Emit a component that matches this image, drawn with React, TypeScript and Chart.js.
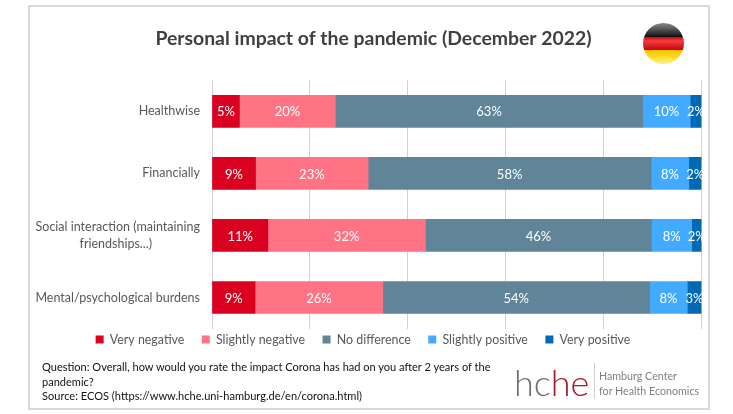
import React, { useEffect, useRef } from "react";
import { Chart, registerables } from "chart.js";

Chart.register(...registerables);

const categories: (string | string[])[] = [
  "Healthwise",
  "Financially",
  ["Social interaction (maintaining", "friendships...)"],
  "Mental/psychological burdens",
];
const veryNegative = [5.6, 8.9, 11.4, 8.8];
const slightlyNegative = [19.6, 23, 32.2, 26.1];
const noDifference = [62.8, 57.8, 46.2, 54.5];
const slightlyPositive = [9.7, 7.7, 8.2, 7.7];
const veryPositive = [2.3, 2.6, 2.0, 2.9];

const veryNegativeLabels = ["5%", "9%", "11%", "9%"];
const slightlyNegativeLabels = ["20%", "23%", "32%", "26%"];
const noDifferenceLabels = ["63%", "58%", "46%", "54%"];
const slightlyPositiveLabels = ["10%", "8%", "8%", "8%"];
const veryPositiveLabels = ["2%", "2%", "2%", "3%"];

const titleText = "Personal impact of the pandemic (December 2022)";
const footerLines = [
  "Question: Overall, how would you rate the impact Corona has had on you after 2 years of the",
  "pandemic?",
  "Source: ECOS (https://www.hche.uni-hamburg.de/en/corona.html)",
];

const FONT = "Lato, Carlito, Calibri, sans-serif";
const GREY = "#595959";

const barLabels = {
  id: "barLabels",
  afterDatasetsDraw(chart: any) {
    const { ctx, chartArea } = chart;
    ctx.save();
    ctx.beginPath();
    ctx.rect(chartArea.left, chartArea.top, chartArea.width + 0.5, chartArea.height);
    ctx.clip();
    ctx.fillStyle = "#ffffff";
    ctx.font = `13px ${FONT}`;
    ctx.textAlign = "center";
    ctx.textBaseline = "middle";
    chart.data.datasets.forEach((ds: any, i: number) => {
      chart.getDatasetMeta(i).data.forEach((bar: any, j: number) => {
        const p = bar.getProps(["x", "y", "base"], true);
        ctx.fillText(ds.valueLabels[j], (p.x + p.base) / 2, p.y + 1);
      });
    });
    ctx.restore();
  },
};

const shiftBlocks = {
  id: "shiftBlocks",
  afterLayout(chart: any) {
    chart.titleBlock.left += 10.5;
    chart.titleBlock.right += 10.5;
    chart.legend.top -= 12.7;
    chart.legend.bottom -= 12.7;
  },
};

export default function App() {
  const ref = useRef<HTMLCanvasElement>(null);
  useEffect(() => {
    const make = (label: string, data: number[], valueLabels: string[], backgroundColor: string) =>
      ({ label, data, valueLabels, backgroundColor, borderWidth: 0 } as any);
    const chart = new Chart(ref.current!, {
      type: "bar",
      data: {
        labels: categories as any,
        datasets: [
          make("Very negative", veryNegative, veryNegativeLabels, "#DA0020"),
          make("Slightly negative", slightlyNegative, slightlyNegativeLabels, "#FF7385"),
          make("No difference", noDifference, noDifferenceLabels, "#608498"),
          make("Slightly positive", slightlyPositive, slightlyPositiveLabels, "#42ABFF"),
          make("Very positive", veryPositive, veryPositiveLabels, "#0069B4"),
        ],
      },
      options: {
        indexAxis: "y",
        animation: false,
        responsive: false,
        devicePixelRatio: 1,
        layout: { padding: { left: 24.5, right: 31.5, top: 0, bottom: 45.6 } },
        datasets: { bar: { barThickness: 32 } },
        scales: {
          x: {
            stacked: true,
            min: 0,
            max: 100,
            ticks: { display: false, stepSize: 20 },
            grid: { color: "#d0d0d0", lineWidth: 1, drawTicks: false },
            border: { display: false },
          },
          y: {
            stacked: true,
            afterFit: (s: any) => {
              s.width = 187.5;
            },
            ticks: {
              color: GREY,
              font: { family: FONT, size: 12.5, lineHeight: 1.36 },
              padding: 12,
              autoSkip: false,
              callback(this: any, _v: any, i: number) {
                const c = categories[i];
                return Array.isArray(c) ? [c[0], c[1] + " ".repeat(15)] : c;
              },
            },
            grid: { display: false, drawTicks: false },
            border: { color: "#d0d0d0" },
          },
        },
        plugins: {
          title: {
            display: true,
            text: titleText,
            color: "#404040",
            font: { family: FONT, size: 19.4, weight: "bold" },
            padding: { top: 27, bottom: 30 },
          },
          legend: {
            position: "bottom",
            labels: {
              color: GREY,
              font: { family: FONT, size: 12.4 },
              boxWidth: 8,
              boxHeight: 8,
              padding: 17.5,
            },
          },
          tooltip: { enabled: false },
        },
      } as any,
      plugins: [barLabels, shiftBlocks],
    });
    return () => chart.destroy();
  }, []);

  return (
    <div style={{ position: "absolute", left: 0, top: 0, width: 733, height: 414, background: "#fff", overflow: "hidden", fontFamily: FONT }}>
      <div style={{ position: "absolute", left: 28, top: 5, width: 678, height: 401, border: "2px solid #d9d9d9" }} />
      <canvas ref={ref} width={733} height={414} style={{ position: "absolute", left: 0, top: 0 }} />
      <div
        style={{
          position: "absolute", left: 643, top: 23, width: 41, height: 41, borderRadius: "50%",
          background:
            "linear-gradient(#8a8a8a 0%, #5a5a5a 14%, #111 33%, #d40010 34%, #f0403a 44%, #c80010 66%, #f2c200 67%, #ffdf30 85%, #f7f0a0 100%)",
        }}
      />
      <div style={{ position: "absolute", left: 42, top: 360, fontSize: 11.05, lineHeight: "14.6px", color: "#111", whiteSpace: "nowrap" }}>
        {footerLines.map((l) => (
          <div key={l}>{l}</div>
        ))}
      </div>
      <div style={{ position: "absolute", left: 514, top: 360, fontSize: 36, fontWeight: 300, lineHeight: "44px", whiteSpace: "nowrap", color: "#6e6e6e", fontFamily: "Lato" }}>
        hc<span style={{ color: "#a6192e" }}>he</span>
      </div>
      <div style={{ position: "absolute", left: 594, top: 363, width: 1, height: 36, background: "#cfcfcf" }} />
      <div style={{ position: "absolute", left: 599, top: 368, fontSize: 10.7, lineHeight: "15px", color: "#808080", whiteSpace: "nowrap" }}>
        <div>Hamburg Center</div>
        <div>for Health Economics</div>
      </div>
    </div>
  );
}
